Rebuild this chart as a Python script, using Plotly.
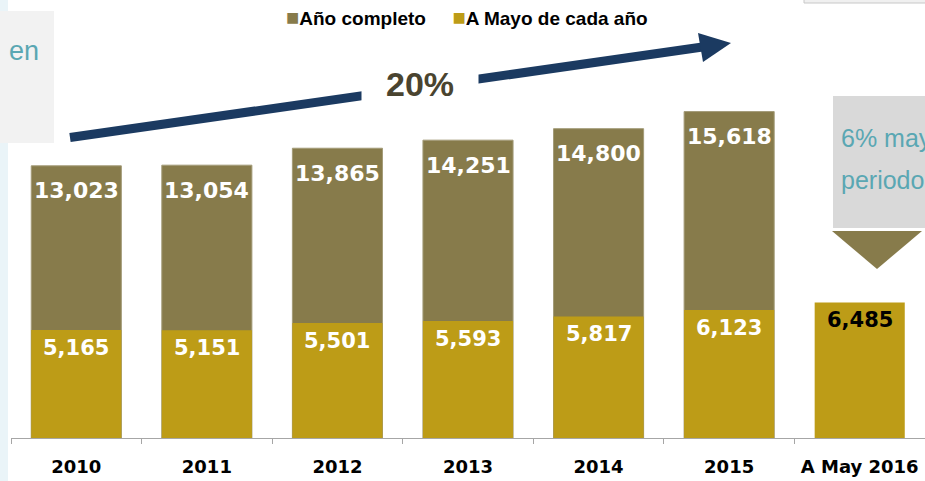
import plotly.graph_objects as go

# datos
categorias = ["2010", "2011", "2012", "2013", "2014", "2015", "A May 2016"]
anio_completo = [13023, 13054, 13865, 14251, 14800, 15618, None]
a_mayo = [5165, 5151, 5501, 5593, 5817, 6123, 6485]
nombres_series = ["Año completo", "A Mayo de cada año"]
crecimiento = "20%"

COLOR_COMPLETO = "#877b4b"
COLOR_MAYO = "#bd9c17"
COLOR_TEAL = "#5aa7b3"
COLOR_FLECHA = "#1b3a61"

W, H = 925, 481
ML, MR, MT, MB = 11, 0, 20, 43
PW, PH = W - ML - MR, H - MT - MB


def px(x):
    """Pasa pixeles horizontales a coordenadas paper."""
    return (x - ML) / PW


def py(y):
    """Pasa pixeles verticales a coordenadas paper."""
    return (H - MB - y) / PH


def fmt(v):
    return f"<b>{v:,}</b>"


fig = go.Figure()

fig.add_trace(
    go.Bar(
        x=categorias,
        y=anio_completo,
        name=nombres_series[0],
        marker=dict(color=COLOR_COMPLETO, line=dict(color="#a39b78", width=1)),
        width=0.69,
        hoverinfo="skip",
    )
)
fig.add_trace(
    go.Bar(
        x=categorias,
        y=a_mayo,
        name=nombres_series[1],
        marker=dict(color=COLOR_MAYO, line=dict(width=0)),
        width=0.69,
        hoverinfo="skip",
    )
)

anotaciones = []
# en eje de categorias, la posicion de la anotacion va por indice
for i, v in enumerate(anio_completo):
    if v is None:
        continue
    anotaciones.append(
        dict(
            x=i, y=v, xref="x", yref="y", yshift=-25,
            text=fmt(v), showarrow=False,
            font=dict(family="DejaVu Sans", size=22, color="white"),
        )
    )
for i, v in enumerate(a_mayo):
    anotaciones.append(
        dict(
            x=i, y=v, xref="x", yref="y", yshift=-18,
            text=fmt(v), showarrow=False,
            font=dict(
                family="DejaVu Sans", size=21,
                color="black" if i == len(categorias) - 1 else "white",
            ),
        )
    )


def nota(x, y, texto, size, color, xanchor="left"):
    return dict(
        x=px(x), y=py(y), xref="paper", yref="paper",
        xanchor=xanchor, yanchor="middle",
        text=texto, showarrow=False,
        font=dict(family="Liberation Sans", size=size, color=color),
    )


# leyenda manual
cuadro = "<span style='font-size:22px;color:{}'>■</span>"
anotaciones.append(
    nota(
        284, 17,
        cuadro.format(COLOR_COMPLETO) + f"<b>{nombres_series[0]}</b>     "
        + cuadro.format(COLOR_MAYO) + f"<b>{nombres_series[1]}</b>",
        19, "black",
    )
)

# texto 20%
n20 = nota(420, 84, f"<b>{crecimiento}</b>", 34, "#4a4430", xanchor="center")
n20.update(bgcolor="white", width=114, height=40)
anotaciones.append(n20)

# cuadro izquierdo y derecho
anotaciones.append(nota(7, 51, "en", 27, COLOR_TEAL))
anotaciones.append(nota(839, 138, "6% mayor", 25, COLOR_TEAL))
anotaciones.append(nota(839, 180, "periodo", 25, COLOR_TEAL))

formas = [
    # franja azul claro a la izquierda
    dict(type="rect", xref="paper", yref="paper", layer="below",
         x0=px(0), x1=px(8), y0=py(0), y1=py(481),
         fillcolor="#eaf4f8", line=dict(width=0)),
    # cuadro gris izquierdo
    dict(type="rect", xref="paper", yref="paper", layer="below",
         x0=px(0), x1=px(54), y0=py(11), y1=py(143),
         fillcolor="#f2f2f2", line=dict(width=0)),
    # cuadro gris derecho
    dict(type="rect", xref="paper", yref="paper", layer="below",
         x0=px(833), x1=px(930), y0=py(96), y1=py(228),
         fillcolor="#d9d9d9", line=dict(width=0)),
    # triángulo
    dict(type="path", xref="paper", yref="paper",
         path=f"M {px(832)},{py(231)} L {px(922)},{py(231)} L {px(877)},{py(269)} Z",
         fillcolor=COLOR_COMPLETO, line=dict(width=0)),
    # cuadro cortado arriba a la derecha
    dict(type="rect", xref="paper", yref="paper", layer="below",
         x0=px(804), x1=px(930), y0=py(-5), y1=py(3),
         fillcolor="#f0f0f0", line=dict(color="#c8c8c8", width=1)),
    # flecha
    dict(type="line", xref="paper", yref="paper", layer="below",
         x0=px(70), y0=py(137.5), x1=px(706), y1=py(46.5),
         line=dict(color=COLOR_FLECHA, width=9)),
    dict(type="path", xref="paper", yref="paper",
         path=(f"M {px(731)},{py(43)} L {px(698)},{py(33)} "
               f"L {px(703)},{py(62)} Z"),
         fillcolor=COLOR_FLECHA, line=dict(width=0)),
]

fig.update_layout(
    width=W,
    height=H,
    barmode="overlay",
    showlegend=False,
    plot_bgcolor="white",
    paper_bgcolor="white",
    margin=dict(l=ML, r=MR, t=MT, b=MB, autoexpand=False),
    annotations=anotaciones,
    shapes=formas,
    xaxis=dict(
        type="category",
        categoryorder="array",
        categoryarray=categorias,
        range=[-0.5, len(categorias) - 0.5],
        showline=True,
        linecolor="#a6a6a6",
        linewidth=1,
        ticks="outside",
        tickson="boundaries",
        ticklen=5,
        tickcolor="#a6a6a6",
        tickangle=0,
        ticklabelstandoff=12,
        tickfont=dict(family="DejaVu Sans", size=18, color="black", weight="bold"),
        showgrid=False,
        fixedrange=True,
        automargin=False,
    ),
    yaxis=dict(
        range=[0, 20000],
        visible=False,
        fixedrange=True,
    ),
)

fig.write_html(
    "out.html",
    config={"displayModeBar": False},
    post_script="document.body.style.margin='0px';",
)
